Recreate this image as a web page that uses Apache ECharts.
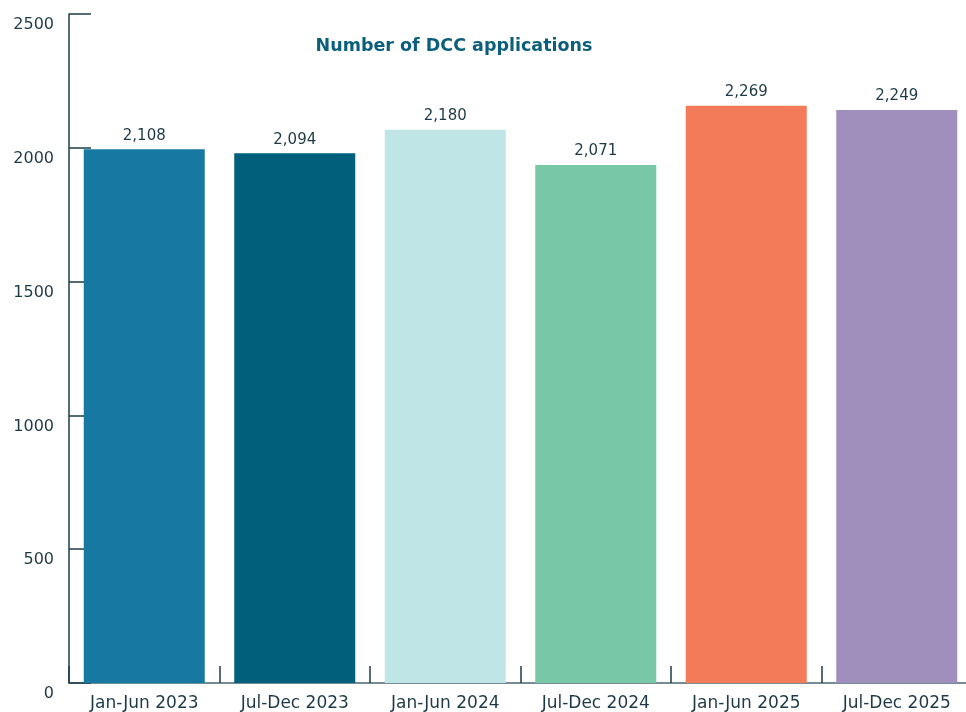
<!DOCTYPE html>
<html>
<head>
<meta charset="utf-8">
<script src="https://cdn.jsdelivr.net/npm/echarts@6/dist/echarts.min.js"></script>
<style>
  html, body { margin: 0; padding: 0; background: #ffffff; }
  #chart { width: 966px; height: 712px; }
</style>
</head>
<body>
<div id="chart"></div>
<script>
  // 半年度类别
  var periods = ["Jan-Jun 2023", "Jul-Dec 2023", "Jan-Jun 2024", "Jul-Dec 2024", "Jan-Jun 2025", "Jul-Dec 2025"];
  // 柱子上标注的申请数量
  var labelCounts = [2108, 2094, 2180, 2071, 2269, 2249];
  // 柱子高度（按图中坐标轴读取）
  var barHeights = [1995, 1980, 2067, 1936, 2157, 2141];
  var barColors = ["#1779a1", "#005f7a", "#c0e5e6", "#78c8a7", "#f37b59", "#a08ebd"];
  var yTicks = [0, 500, 1000, 1500, 2000, 2500];

  var axisColor = "#1f3c48";
  var textColor = "#1e3a46";
  var font = "DejaVu Sans";

  var myChart = echarts.init(document.getElementById("chart"));

  var option = {
    animation: false,
    backgroundColor: "#ffffff",
    title: {
      text: "Number of DCC applications",
      left: 449,
      top: 32,
      textAlign: "center",
      textStyle: {
        fontFamily: font,
        fontSize: 17.5,
        fontWeight: "bold",
        color: "#0b5f7c"
      }
    },
    grid: {
      left: 69,
      width: 903,
      top: 14,
      bottom: 29,
      outerBoundsMode: "none"
    },
    xAxis: {
      type: "category",
      data: periods,
      axisLine: { show: true, lineStyle: { color: "#4a6670", width: 1.5 } },
      axisTick: {
        show: true,
        inside: true,
        length: 17,
        lineStyle: { color: axisColor, width: 1.5 }
      },
      axisLabel: {
        margin: 12,
        fontFamily: font,
        fontSize: 17,
        color: textColor
      }
    },
    yAxis: {
      type: "value",
      min: yTicks[0],
      max: yTicks[yTicks.length - 1],
      interval: 500,
      splitLine: { show: false },
      axisLine: { show: true, lineStyle: { color: axisColor, width: 1.5 } },
      axisTick: {
        show: true,
        inside: true,
        length: 22,
        lineStyle: { color: axisColor, width: 1.5 }
      },
      axisLabel: {
        margin: 15,
        fontFamily: font,
        fontSize: 16,
        color: textColor,
        verticalAlign: "top",
        padding: [3, 0, 0, 0],
        formatter: function (v) { return String(v); }
      }
    },
    series: [
      {
        type: "bar",
        barWidth: 121,
        data: barHeights.map(function (v, i) {
          return { value: v, itemStyle: { color: barColors[i] } };
        }),
        label: {
          show: true,
          position: "top",
          distance: 6,
          fontFamily: font,
          fontSize: 15,
          color: textColor,
          formatter: function (p) {
            return labelCounts[p.dataIndex].toLocaleString("en-US");
          }
        }
      }
    ]
  };

  myChart.setOption(option);
  window.addEventListener("resize", function () {
    myChart.resize();
  });
</script>
</body>
</html>
